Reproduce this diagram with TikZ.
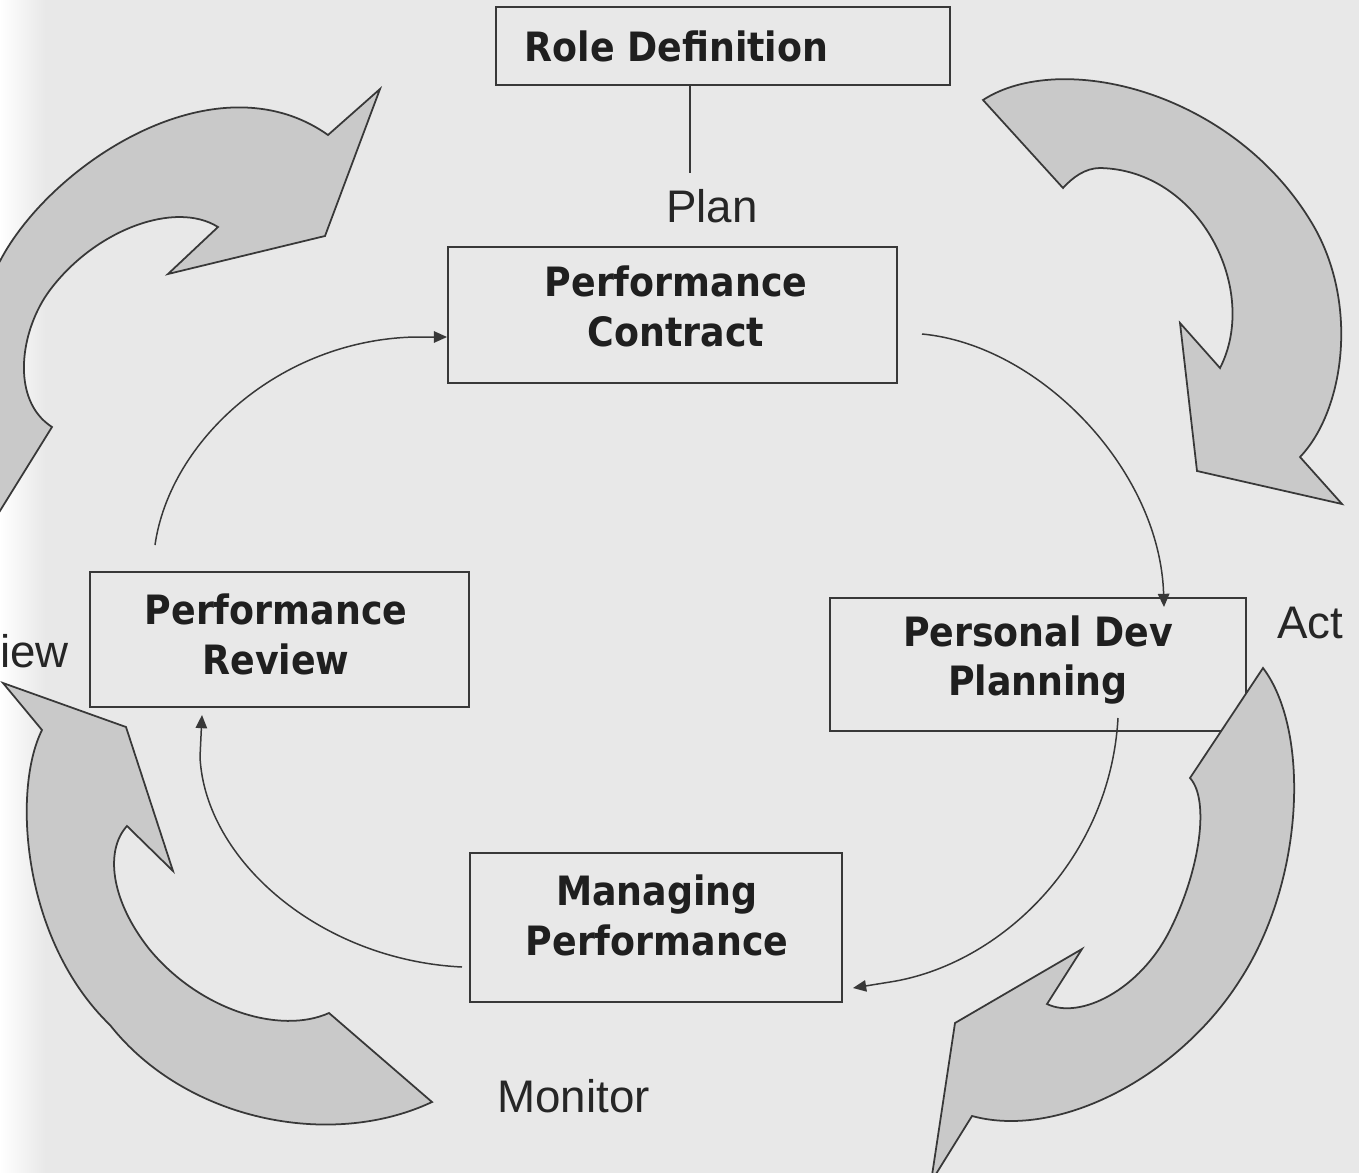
\documentclass[tikz,border=0pt]{standalone}
\usepackage{fontspec}
\setmainfont{Liberation Sans}
\newfontfamily\boxfont{DejaVu Sans Condensed}
\usetikzlibrary{positioning}
\usetikzlibrary{calc}
\usetikzlibrary{arrows.meta}

\definecolor{paper}{gray}{0.91}
\definecolor{ink}{gray}{0.22}
\definecolor{swoosh}{gray}{0.79}

\tikzset{
    stagebox/.style={draw=ink, line width=1.1pt, inner sep=0pt},
    stagetext/.style={font=\boxfont\bfseries\fontsize{23}{28.4}\selectfont, align=center, inner sep=0pt, text=black!88},
    phase/.style={font=\fontsize{26}{30}\selectfont, inner sep=0pt, text=black!85},
    link/.style={draw=ink, line width=0.85pt},
    bigarrow/.style={draw=ink, line width=1pt, fill=swoosh, line join=miter},
}

\begin{document}
\begin{tikzpicture}[x=0.02cm, y=-0.02cm, >={Triangle[length=7.5pt,width=6.5pt]}]

    % Page
    \useasboundingbox (0,0) rectangle (1359,1173);
    \fill[paper] (0,0) rectangle (1359,1173);
    \shade[left color=white, right color=paper] (0,0) rectangle (45,1173);

    \begin{scope}
    \clip (0,0) rectangle (1359,1173);

    % Draw boxes
    \node[stagebox, minimum width=9.08cm, minimum height=1.56cm] (role) at (723,46) {};
    \node[stagebox, minimum width=8.98cm, minimum height=2.72cm] (contract) at (672.5,315) {};
    \node[stagebox, minimum width=8.32cm, minimum height=2.66cm] (devplan) at (1038,664.5) {};
    \node[stagebox, minimum width=7.44cm, minimum height=2.98cm] (managing) at (656,927.5) {};
    \node[stagebox, minimum width=7.58cm, minimum height=2.70cm] (review) at (279.5,639.5) {};

    % Draw cycle arrows
    \draw[bigarrow] (52,427) -- (-15,535) -- (-15,285) -- (0,261)
        .. controls (50,165) and (215,55) .. (328,135) -- (380,89) -- (325,236) -- (168,274) -- (218,227)
        .. controls (175,200) and (95,230) .. (50,290)
        .. controls (20,330) and (10,400) .. (52,427) -- cycle;

    \draw[bigarrow] (1063,188) -- (983,100)
        .. controls (1060,50) and (1230,90) .. (1310,220)
        .. controls (1360,300) and (1345,410) .. (1300,457) -- (1342,504) -- (1197,471) -- (1180,323) -- (1220,368)
        .. controls (1260,290) and (1200,170) .. (1100,168)
        .. controls (1085,168) and (1072,178) .. (1063,188) -- cycle;

    \draw[bigarrow] (1190,778) -- (1263,668)
        .. controls (1310,730) and (1305,880) .. (1240,980)
        .. controls (1180,1075) and (1060,1140) .. (972,1116) -- (931,1182) -- (955,1023) -- (1082,949) -- (1047,1004)
        .. controls (1080,1020) and (1140,990) .. (1170,930)
        .. controls (1200,870) and (1210,800) .. (1190,778) -- cycle;

    \draw[bigarrow] (3,683) -- (42,730)
        .. controls (12,790) and (22,940) .. (110,1025)
        .. controls (185,1120) and (330,1150) .. (432,1102) -- (329,1013)
        .. controls (280,1035) and (200,1010) .. (150,950)
        .. controls (110,900) and (105,850) .. (127,826) -- (173,871) -- (126,727) -- cycle;

    % Box texts
    \node[stagetext] (roleText) at (676.5,46.5) {Role Definition};
    \node[stagetext] (contractText) at (676,306) {Performance\\Contract};
    \node[stagetext] (devplanText) at (1038,660) {Personal Dev\\Planning};
    \node[stagetext] (managingText) at (657,915) {Managing\\Performance};
    \node[stagetext] (reviewText) at (276,634) {Performance\\Review};

    % Phase labels
    \node[phase, anchor=base] (plan) at (712,222) {Plan};
    \node[phase, anchor=base] (act) at (1310,638) {Act};
    \node[phase, anchor=base] (monitor) at (573.5,1112) {Monitor};
    \node[phase, anchor=base west] (reviewPhase) at (0,667) {iew};

    % Connector ends
    \coordinate (planTop) at (690,173);
    \coordinate (revOut) at (155,545);
    \coordinate (conOut) at (922,334);
    \coordinate (devIn) at (1164,607);
    \coordinate (devOut) at (1118,718);
    \coordinate (manIn) at (853,988);
    \coordinate (manOut) at (462,967);
    \coordinate (revIn) at (202,715);

    % Draw connectors
    \draw[link] (role.south -| planTop) -- (planTop);
    \draw[link, ->] (revOut) .. controls (170,440) and (280,340) .. (415,337) -- (contract.west |- 0,337);
    \draw[link, ->] (conOut) .. controls (1040,345) and (1160,470) .. (devIn);
    \draw[link, ->] (devOut) .. controls (1110,860) and (1000,965) .. (890,982) -- (manIn);
    \draw[link, ->] (manOut) .. controls (320,960) and (205,860) .. (200,757) -- (revIn);

    \end{scope}

\end{tikzpicture}
\end{document}
